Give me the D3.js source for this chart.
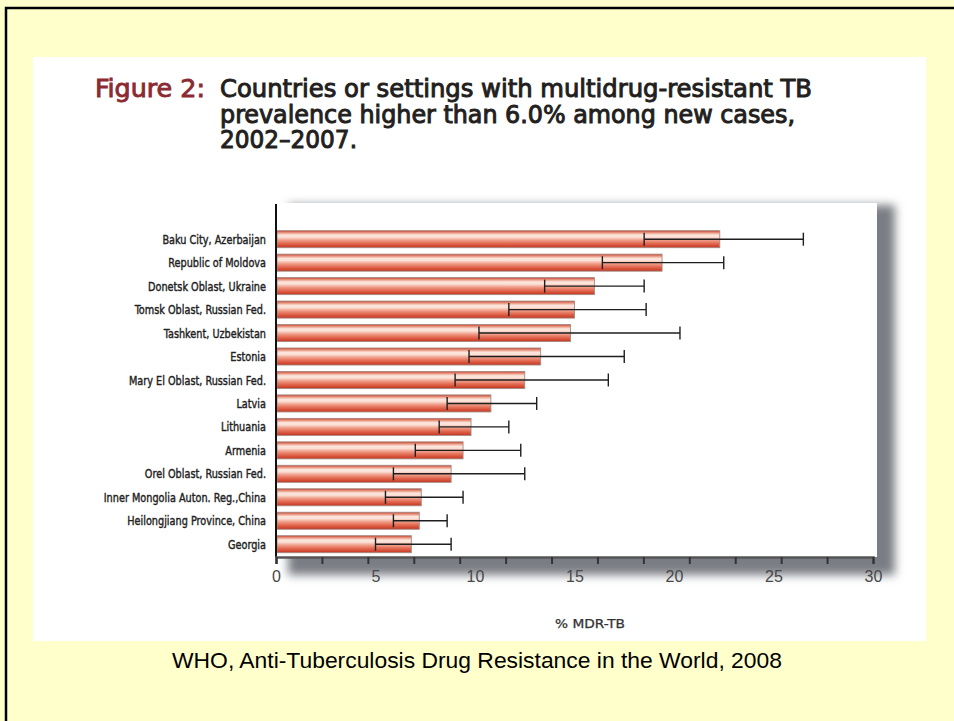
<!DOCTYPE html>
<html>
<head>
<meta charset="utf-8">
<script src="https://cdn.jsdelivr.net/npm/d3@7"></script>
<style>
  html, body { margin: 0; padding: 0; background: #FFFFCC; overflow: hidden; }
  svg { display: block; }
</style>
</head>
<body>
<svg id="chart" width="954" height="721"></svg>
<script>
// Settings with MDR-TB prevalence above 6.0% among new cases, 2002–2007
const categories = [
  "Baku City, Azerbaijan",
  "Republic of Moldova",
  "Donetsk Oblast, Ukraine",
  "Tomsk Oblast, Russian Fed.",
  "Tashkent, Uzbekistan",
  "Estonia",
  "Mary El Oblast, Russian Fed.",
  "Latvia",
  "Lithuania",
  "Armenia",
  "Orel Oblast, Russian Fed.",
  "Inner Mongolia Auton. Reg.,China",
  "Heilongjiang Province, China",
  "Georgia"
];
// % MDR-TB among new cases
const mdrValues = [22.3, 19.4, 16.0, 15.0, 14.8, 13.3, 12.5, 10.8, 9.8, 9.4, 8.8, 7.3, 7.2, 6.8];
// 95% confidence limits
const ciLow  = [18.5, 16.4, 13.5, 11.7, 10.2, 9.7, 9.0, 8.6, 8.2, 7.0, 5.9, 5.5, 5.9, 5.0];
const ciHigh = [26.5, 22.5, 18.5, 18.6, 20.3, 17.5, 16.7, 13.1, 11.7, 12.3, 12.5, 9.4, 8.6, 8.8];

const tickLabels = [0, 5, 10, 15, 20, 25, 30];
const xMax = 30;
const tickDivisions = 13;   // the axis carries 13 evenly spaced tick marks

const titleLead = "Figure 2:";
const titleLines = [
  "Countries or settings with multidrug-resistant TB",
  "prevalence higher than 6.0% among new cases,",
  "2002\u20132007."
];
const axisTitle = "% MDR-TB";
const sourceNote = "WHO, Anti-Tuberculosis Drug Resistance in the World, 2008";

const condensed = "'DejaVu Sans Condensed', 'Liberation Sans Narrow', sans-serif";
const arial = "'Liberation Sans', Arial, sans-serif";

const svg = d3.select("#chart");
const defs = svg.append("defs");

// slide background and frame
svg.append("rect").attr("x", 0).attr("y", 0).attr("width", 954).attr("height", 721).attr("fill", "#FFFFCC");
svg.append("path")
  .attr("d", "M6,730 V8 H960")
  .attr("fill", "none").attr("stroke", "#000").attr("stroke-width", 2.5);

// white figure panel
svg.append("rect").attr("x", 33).attr("y", 57).attr("width", 893).attr("height", 584).attr("fill", "#fff");

// title, set in a condensed face and fitted to its measure
const titleWidths = [592, 575, 137];
const title = svg.append("g").attr("font-family", condensed).attr("font-size", 24);
title.append("text").attr("x", 95).attr("y", 97)
  .attr("fill", "#8B2A33").attr("stroke", "#8B2A33").attr("stroke-width", 0.8)
  .attr("textLength", 110).attr("lengthAdjust", "spacingAndGlyphs")
  .text(titleLead);
title.selectAll("text.line").data(titleLines).join("text")
  .attr("class", "line")
  .attr("x", 220)
  .attr("y", (d, i) => 97 + i * 25.5)
  .attr("fill", "#231F20").attr("stroke", "#231F20").attr("stroke-width", 0.9)
  .attr("textLength", (d, i) => titleWidths[i]).attr("lengthAdjust", "spacingAndGlyphs")
  .text(d => d);

// plot geometry
const plot = { left: 276, right: 877, top: 203, bottom: 557 };
const x = d3.scaleLinear().domain([0, xMax]).range([276, 873]);
const y = d3.scaleBand().domain(categories).range([226, 557.4]).paddingInner(0.275).paddingOuter(0.2);

// drop shadow behind the plot box
const blur = defs.append("filter").attr("id", "soft").attr("x", "-10%").attr("y", "-10%").attr("width", "120%").attr("height", "120%");
blur.append("feGaussianBlur").attr("stdDeviation", 5);
svg.append("rect")
  .attr("x", plot.left + 12).attr("y", plot.top + 2)
  .attr("width", plot.right - plot.left + 6).attr("height", plot.bottom - plot.top + 16)
  .attr("fill", "#7a7e84").attr("filter", "url(#soft)");
svg.append("rect")
  .attr("x", plot.left).attr("y", plot.top)
  .attr("width", plot.right - plot.left).attr("height", plot.bottom - plot.top)
  .attr("fill", "#fff");

// glossy bar gradient
const grad = defs.append("linearGradient").attr("id", "barFill").attr("x1", 0).attr("y1", 0).attr("x2", 0).attr("y2", 1);
[
  [0.00, "#c8402c"],
  [0.10, "#e68872"],
  [0.25, "#fbe6dc"],
  [0.38, "#fbe0d6"],
  [0.55, "#f0a08c"],
  [0.75, "#e26a52"],
  [0.92, "#d1452e"],
  [1.00, "#b8351f"]
].forEach(([o, c]) => grad.append("stop").attr("offset", o).attr("stop-color", c));

// bars
svg.append("g").selectAll("rect").data(categories).join("rect")
  .attr("x", x(0) + 1)
  .attr("y", d => y(d))
  .attr("width", (d, i) => x(mdrValues[i]) - x(0) - 1)
  .attr("height", y.bandwidth())
  .attr("fill", "url(#barFill)")
  .attr("stroke", "#a58a84")
  .attr("stroke-width", 0.9);

// confidence-interval whiskers
const whiskers = svg.append("g").attr("stroke", "#1e1e1e").attr("stroke-width", 1.4);
categories.forEach((c, i) => {
  const cy = y(c) + y.bandwidth() / 2;
  whiskers.append("line").attr("x1", x(ciLow[i])).attr("x2", x(ciHigh[i])).attr("y1", cy).attr("y2", cy);
  [ciLow[i], ciHigh[i]].forEach(v => {
    whiskers.append("line").attr("x1", x(v)).attr("x2", x(v)).attr("y1", cy - 6.5).attr("y2", cy + 6.5);
  });
});

// category labels, horizontally compressed to a narrow set
const labelScaleX = 0.83;
svg.append("g")
  .attr("transform", `translate(${plot.left - 10},0) scale(${labelScaleX},1)`)
  .selectAll("text").data(categories).join("text")
  .attr("x", 0)
  .attr("y", d => y(d) + y.bandwidth() / 2)
  .attr("dy", "0.35em")
  .attr("text-anchor", "end")
  .attr("font-family", condensed).attr("font-size", 13)
  .attr("fill", "#222").attr("stroke", "#222").attr("stroke-width", 0.4)
  .text(d => d);
svg.append("line")
  .attr("x1", plot.left).attr("x2", plot.left).attr("y1", 204).attr("y2", plot.bottom)
  .attr("stroke", "#111").attr("stroke-width", 2);

// value axis: tick marks
const tickMarks = d3.range(tickDivisions + 1).map(i => i * xMax / tickDivisions);
const xMarks = svg.append("g")
  .attr("transform", `translate(0,${plot.bottom})`)
  .call(d3.axisBottom(x).tickValues(tickMarks).tickSize(7).tickFormat(""));
xMarks.select(".domain").attr("stroke", "#555").attr("stroke-width", 2.5);
xMarks.selectAll(".tick line").attr("stroke", "#333").attr("stroke-width", 2);

// value axis: labels
const xLabels = svg.append("g")
  .attr("transform", `translate(0,${plot.bottom})`)
  .call(d3.axisBottom(x).tickValues(tickLabels).tickSize(0).tickPadding(14));
xLabels.select(".domain").remove();
xLabels.selectAll("text")
  .attr("font-family", arial).attr("font-size", 16).attr("fill", "#484848");

svg.append("text")
  .attr("x", 590).attr("y", 628)
  .attr("text-anchor", "middle")
  .attr("font-family", condensed).attr("font-size", 12.5)
  .attr("fill", "#333").attr("stroke", "#333").attr("stroke-width", 0.25)
  .attr("textLength", 70).attr("lengthAdjust", "spacingAndGlyphs")
  .text(axisTitle);

// source note
svg.append("text")
  .attr("x", 477).attr("y", 668)
  .attr("text-anchor", "middle")
  .attr("font-family", arial).attr("font-size", 22).attr("fill", "#000")
  .attr("textLength", 610).attr("lengthAdjust", "spacingAndGlyphs")
  .text(sourceNote);
</script>
</body>
</html>
